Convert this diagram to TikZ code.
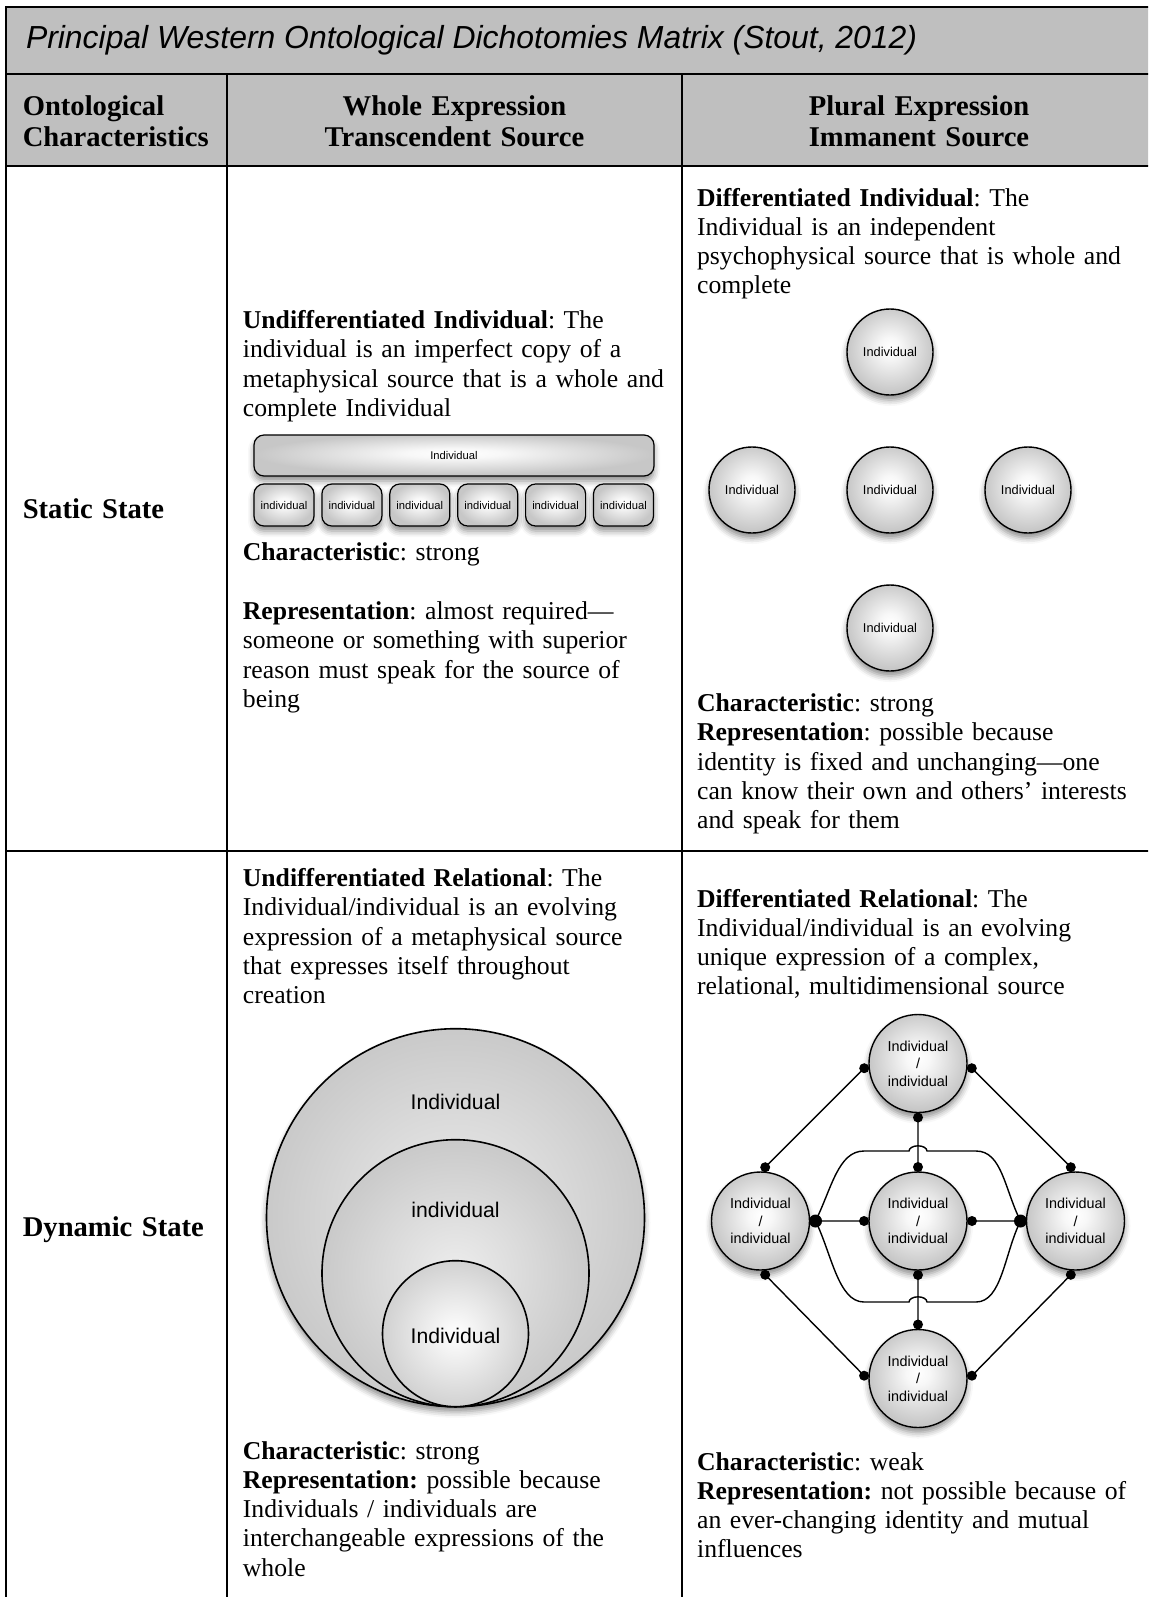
\documentclass[tikz,border=0pt]{standalone}
\usepackage{fontspec}
\setmainfont{Liberation Serif}
\newfontfamily\helv{Liberation Sans}
\usepackage{tikz}
\usetikzlibrary{positioning,shadows.blur,calc}
\frenchspacing
\definecolor{hdrgray}{RGB}{191,191,191}
\pgfdeclareradialshading{orb}{\pgfpoint{0bp}{3bp}}{color(0bp)=(white); color(6bp)=(white!97!black); color(25bp)=(white!78!black); color(50bp)=(white!78!black)}
\pgfdeclareradialshading{ring}{\pgfpoint{0bp}{0bp}}{color(0bp)=(white!93!black); color(25bp)=(white!79!black); color(50bp)=(white!79!black)}
\pgfdeclareradialshading{core}{\pgfpoint{0bp}{0bp}}{color(0bp)=(white); color(25bp)=(white!82!black); color(50bp)=(white!82!black)}
\tikzset{
	grid_line/.style = {line width=1.3pt},
	cell_txt/.style = {anchor=base west, inner sep=0pt, text width=232pt, align=left, font=\fontsize{12.85}{14.65}\selectfont},
	hdr_txt/.style = {anchor=base, inner sep=0pt, text width=210pt, align=center, font=\fontsize{14.3}{15.85}\selectfont\bfseries},
	row_txt/.style = {hdr_txt, anchor=base west, text width=100pt, align=left},
	shadowed/.style = {blur shadow={shadow xshift=0pt, shadow yshift=-2.5pt, shadow blur radius=3pt, shadow opacity=45}},
	orb/.style = {circle, draw=black, line width=0.7pt, inner sep=0pt, outer sep=0pt, shading=orb, shadowed},
	orb_s/.style = {orb, minimum size=43pt, font=\helv\fontsize{6.4}{7.5}\selectfont},
	net_node/.style = {orb, minimum size=49pt, align=center, font=\helv\fontsize{7.2}{8.8}\selectfont},
	ring/.style = {circle, draw=black, line width=0.8pt, inner sep=0pt, outer sep=0pt, shading=ring},
	ring_lbl/.style = {inner sep=0pt, font=\helv\fontsize{10.6}{12}\selectfont},
	bar_top/.style = {rectangle, rounded corners=5pt, draw=black, line width=0.6pt, inner sep=0pt, minimum width=200pt, minimum height=20.5pt, shading=orb, shadowed, font=\helv\fontsize{5.6}{6.5}\selectfont},
	bar_sub/.style = {bar_top, minimum width=30pt, minimum height=21pt},
	wire/.style = {line width=0.7pt},
	dot/.style = {circle, fill=black, inner sep=0pt, minimum size=5pt},
	hub/.style = {dot, minimum size=6.5pt}
}

\begin{document}
\begin{tikzpicture}[x=0.5pt, y=-0.5pt]
\clip (0,0) rectangle (1148,1597);
% table frame
\fill[hdrgray] (6,7) rectangle (1156,166);
\draw[grid_line] (6,7) rectangle (1156,1603);
\draw[grid_line] (6,74) -- (1156,74) (6,166) -- (1156,166) (6,851) -- (1156,851)
	(227,74) -- (227,1603) (682,74) -- (682,1603);

\node[anchor=base west, inner sep=0pt, font=\helv\itshape\fontsize{15.95}{18}\selectfont] (title) at (25.6,48.5)
	{Principal Western Ontological Dichotomies Matrix (Stout, 2012)};
\node[row_txt] (hOnto) at (22.4,115) {Ontological\\Characteristics};
\node[hdr_txt] (hWhole) at (454.5,115) {Whole Expression\\Transcendent Source};
\node[hdr_txt] (hPlural) at (919,115) {Plural Expression\\Immanent Source};
\node[row_txt] (hStatic) at (22.4,518) {Static State};
\node[row_txt] (hDynamic) at (22.4,1236) {Dynamic State};

% static / whole
\node[cell_txt] (swTxt) at (242.5,328.5) {\textbf{Undifferentiated Individual}: The\\
	individual is an imperfect copy of a\\ metaphysical source that is a whole and\\ complete Individual};
\node[bar_top] (bWhole) at (454,455.5) {Individual};
\foreach \i in {0,...,5}
	\node[bar_sub] (b\i) at ({284+67.9*\i},505) {individual};
\node[cell_txt] (swChar) at (242.5,560.5) {\textbf{Characteristic}: strong};
\node[cell_txt] (swRep) at (242.5,619.5) {\textbf{Representation}: almost required---\\
	someone or something with superior\\ reason must speak for the source of\\ being};

% static / plural
\node[cell_txt] (spTxt) at (696.7,206) {\textbf{Differentiated Individual}: The\\
	Individual is an independent\\ psychophysical source that is whole and\\ complete};
\begin{scope}[node distance=26pt]
\node[orb_s] (sC) at (890,490) {Individual};
\node[orb_s, above=of sC] (sN) {Individual};
\node[orb_s, left=of sC] (sW) {Individual};
\node[orb_s, right=of sC] (sE) {Individual};
\node[orb_s, below=of sC] (sS) {Individual};
\end{scope}
\node[cell_txt] (spChar) at (696.7,711.5) {\textbf{Characteristic}: strong\\
	\textbf{Representation}: possible because\\ identity is fixed and unchanging---one\\
	can know their own and others' interests\\ and speak for them};

% dynamic / whole
\node[cell_txt] (dwTxt) at (242.5,886.5) {\textbf{Undifferentiated Relational}: The\\
	Individual/individual is an evolving\\ expression of a metaphysical source\\
	that expresses itself throughout\\ creation};
\node[ring, minimum size=189pt, shadowed] (ringO) at (455.5,1217.7) {};
\node[ring, minimum size=133.5pt, anchor=south] (ringM) at (ringO.south) {};
\node[ring, minimum size=73pt, anchor=south, shading=core] (ringI) at (ringO.south) {};
\node[ring_lbl] (lO) at ([yshift=-36.5pt]ringO.north) {Individual};
\node[ring_lbl] (lM) at ([yshift=-35.25pt]ringM.north) {individual};
\node[ring_lbl] (lI) at ([yshift=-1pt]ringI.center) {Individual};
\node[cell_txt] (dwChar) at (242.5,1459) {\textbf{Characteristic}: strong\\
	\textbf{Representation:} possible because\\ Individuals / individuals are\\
	interchangeable expressions of the\\ whole};

% dynamic / plural
\node[cell_txt] (dpTxt) at (696.7,907) {\textbf{Differentiated Relational}: The\\
	Individual/individual is an evolving\\ unique expression of a complex,\\
	relational, multidimensional source};
\begin{scope}[node distance=29.75pt]
\node[net_node] (nC) at (918,1221) {Individual\\/\\individual};
\node[net_node, above=of nC] (nT) {Individual\\/\\individual};
\node[net_node, left=of nC] (nL) {Individual\\/\\individual};
\node[net_node, right=of nC] (nR) {Individual\\/\\individual};
\node[net_node, below=of nC] (nB) {Individual\\/\\individual};
\end{scope}
\foreach \n/\a/\m in {nT/185/tw, nT/-5/te, nT/270/ts, nL/85/lt, nL/-85/lb,
	nC/90/ct, nC/180/cw, nC/0/ce, nC/270/cb, nR/95/rt, nR/-95/rb,
	nB/90/bt, nB/177/bw, nB/3/be}
	\coordinate (\m) at ($(\n.center)+(\a:27pt)$);
\coordinate (le) at ($(nL.center)+(0:27.5pt)$);
\coordinate (rw) at ($(nR.center)+(180:27.5pt)$);
\draw[wire] (tw) -- (lt) (te) -- (rt) (lb) -- (bw) (rb) -- (be)
	(le) -- (cw) (ce) -- (rw) (ts) -- (ct) (bt) -- (cb);
\draw[wire] (le) .. controls +(16,-32) and +(-26,0) .. (864,1151) -- (909,1151)
	arc[start angle=180, end angle=0, x radius=4.5pt, y radius=2.6pt]
	-- (976,1151) .. controls +(26,0) and +(-16,-32) .. (rw);
\draw[wire] (le) .. controls +(16,32) and +(-26,0) .. (864,1302) -- (909,1302)
	arc[start angle=180, end angle=0, x radius=4.5pt, y radius=2.6pt]
	-- (976,1302) .. controls +(26,0) and +(-16,32) .. (rw);
\foreach \m in {tw,te,ts,lt,lb,ct,cw,ce,cb,rt,rb,bt,bw,be}
	\node[dot] at (\m) {};
\node[hub] at (le) {};
\node[hub] at (rw) {};
\node[cell_txt] (dpChar) at (696.7,1470) {\textbf{Characteristic}: weak\\
	\textbf{Representation:} not possible because of\\ an ever-changing identity and mutual\\
	influences};
\end{tikzpicture}
\end{document}
